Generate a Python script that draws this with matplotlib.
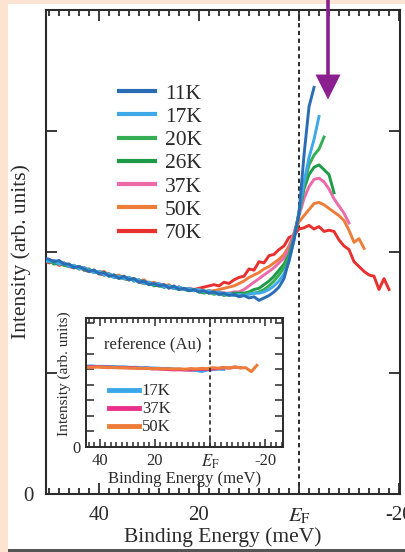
import numpy as np
import matplotlib
matplotlib.use("Agg")
import matplotlib.pyplot as plt
from matplotlib.patches import Rectangle
from matplotlib.ticker import MultipleLocator

plt.rcParams['font.family'] = ['Liberation Serif', 'DejaVu Serif']
plt.rcParams['mathtext.fontset'] = 'stix'

# ---- data (binding energy in meV, 1 meV steps from 51 meV) ----
energy = np.arange(51, -19, -1)

temps = ['11K', '17K', '20K', '26K', '37K', '50K', '70K']
colors = ['#2a6db5', '#3ea9e8', '#34ad55', '#1f9a48', '#ec6aa8', '#ee7d3a', '#e8302f']

i_11k = [1.95, 1.94, 1.92, 1.93, 1.90, 1.90, 1.87, 1.88, 1.86, 1.84, 1.85, 1.82, 1.83,
         1.80, 1.81, 1.78, 1.80, 1.77, 1.78, 1.75, 1.76, 1.73, 1.74, 1.72, 1.73, 1.70,
         1.72, 1.69, 1.70, 1.68, 1.69, 1.67, 1.68, 1.66, 1.67, 1.65, 1.66, 1.64, 1.65,
         1.63, 1.64, 1.62, 1.63, 1.60, 1.62, 1.64, 1.67, 1.71, 1.78, 1.93, 2.10, 2.32,
         2.80, 3.20, 3.36]
i_17k = [1.93, 1.92, 1.93, 1.90, 1.91, 1.88, 1.89, 1.86, 1.87, 1.85, 1.83, 1.84, 1.81,
         1.82, 1.79, 1.80, 1.78, 1.79, 1.76, 1.77, 1.74, 1.75, 1.73, 1.74, 1.71, 1.72,
         1.70, 1.71, 1.69, 1.70, 1.68, 1.69, 1.67, 1.68, 1.66, 1.67, 1.65, 1.66, 1.64,
         1.65, 1.64, 1.65, 1.66, 1.66, 1.67, 1.69, 1.72, 1.76, 1.82, 1.92, 2.10, 2.33,
         2.58, 2.78, 2.93, 3.12]
i_20k = [1.94, 1.92, 1.91, 1.92, 1.89, 1.90, 1.87, 1.88, 1.85, 1.86, 1.83, 1.84, 1.81,
         1.82, 1.79, 1.80, 1.78, 1.77, 1.78, 1.75, 1.76, 1.73, 1.74, 1.72, 1.71, 1.72,
         1.70, 1.69, 1.70, 1.68, 1.69, 1.67, 1.66, 1.67, 1.65, 1.66, 1.64, 1.65, 1.64,
         1.65, 1.65, 1.66, 1.66, 1.67, 1.69, 1.72, 1.76, 1.81, 1.87, 1.96, 2.12, 2.33,
         2.55, 2.72, 2.80, 2.85, 2.95]
i_26k = [1.92, 1.93, 1.90, 1.91, 1.89, 1.88, 1.89, 1.86, 1.87, 1.84, 1.85, 1.82, 1.83,
         1.80, 1.81, 1.79, 1.78, 1.79, 1.76, 1.77, 1.74, 1.75, 1.72, 1.73, 1.71, 1.72,
         1.70, 1.71, 1.69, 1.68, 1.69, 1.67, 1.68, 1.66, 1.67, 1.65, 1.66, 1.65, 1.66,
         1.66, 1.66, 1.67, 1.69, 1.70, 1.73, 1.76, 1.80, 1.85, 1.90, 1.98, 2.12, 2.32,
         2.52, 2.64, 2.70, 2.72, 2.68, 2.64, 2.49]
i_37k = [1.93, 1.94, 1.91, 1.90, 1.91, 1.88, 1.87, 1.88, 1.85, 1.86, 1.83, 1.84, 1.81,
         1.82, 1.80, 1.79, 1.80, 1.77, 1.78, 1.75, 1.76, 1.74, 1.73, 1.74, 1.71, 1.72,
         1.70, 1.71, 1.69, 1.70, 1.68, 1.69, 1.67, 1.68, 1.66, 1.67, 1.66, 1.66, 1.67,
         1.67, 1.69, 1.72, 1.75, 1.78, 1.81, 1.84, 1.87, 1.91, 1.95, 2.03, 2.16, 2.30,
         2.44, 2.54, 2.60, 2.61, 2.58, 2.52, 2.44, 2.38, 2.32, 2.24]
i_50k = [1.94, 1.92, 1.93, 1.90, 1.91, 1.89, 1.88, 1.86, 1.87, 1.85, 1.84, 1.83, 1.84,
         1.81, 1.80, 1.81, 1.78, 1.79, 1.77, 1.76, 1.77, 1.74, 1.75, 1.73, 1.72, 1.73,
         1.70, 1.71, 1.69, 1.70, 1.68, 1.69, 1.67, 1.68, 1.68, 1.69, 1.70, 1.71, 1.72,
         1.74, 1.76, 1.79, 1.81, 1.83, 1.86, 1.88, 1.91, 1.94, 1.98, 2.05, 2.15, 2.25,
         2.30, 2.35, 2.40, 2.41, 2.39, 2.36, 2.33, 2.30, 2.26, 2.18, 2.08, 2.11, 2.03]
i_70k = [1.93, 1.91, 1.92, 1.89, 1.90, 1.88, 1.87, 1.88, 1.85, 1.84, 1.85, 1.82, 1.81,
         1.82, 1.79, 1.80, 1.78, 1.77, 1.78, 1.75, 1.74, 1.75, 1.73, 1.72, 1.73, 1.71,
         1.70, 1.71, 1.69, 1.70, 1.69, 1.70, 1.71, 1.72, 1.73, 1.72, 1.75, 1.74, 1.77,
         1.79, 1.80, 1.86, 1.85, 1.92, 1.91, 1.97, 1.98, 2.02, 2.05, 2.12, 2.14, 2.19,
         2.20, 2.22, 2.19, 2.21, 2.17, 2.18, 2.17, 2.10, 2.05, 2.02, 1.92, 1.88, 1.84,
         1.81, 1.80, 1.69, 1.78, 1.69]
spectra = [i_11k, i_17k, i_20k, i_26k, i_37k, i_50k, i_70k]

# inset: gold reference, 2 meV steps from 45 meV
energy_au = np.arange(45, -19, -2)
au_temps = ['17K', '37K', '50K']
au_colors = ['#3aa8e8', '#e8308a', '#ee7d3a']
au_17k = [5.20, 5.22, 5.18, 5.19, 5.17, 5.18, 5.15, 5.16, 5.12, 5.13, 5.10, 5.11, 5.08,
          5.07, 5.05, 5.06, 5.02, 5.00, 4.98, 4.95, 4.93, 4.86, 4.95, 4.98, 5.01, 5.00]
au_37k = [5.17, 5.16, 5.18, 5.14, 5.15, 5.12, 5.13, 5.10, 5.11, 5.08, 5.06, 5.07, 5.03,
          5.02, 5.00, 4.98, 4.96, 4.97, 4.95, 4.96, 4.98, 5.00, 4.99, 5.02, 5.05, 5.10,
          5.08, 5.14, 5.10]
au_50k = [5.14, 5.12, 5.15, 5.13, 5.10, 5.12, 5.09, 5.10, 5.07, 5.08, 5.05, 5.06, 5.03,
          5.05, 5.02, 5.04, 5.01, 5.03, 5.00, 5.05, 5.02, 5.06, 5.04, 5.10, 5.07, 5.12,
          5.08, 5.15, 5.10, 5.10, 4.85, 5.25]
au_spectra = [au_17k, au_37k, au_50k]

xtick_vals = [40, 20, 0, -20]
xtick_labels = ['40', '20', r'$E_{\rm F}$', '-20']

# ---- figure ----
W, H = 406, 552
fig = plt.figure(figsize=(W / 100, H / 100), dpi=100)
fig.patch.set_facecolor('#fde4d2')
fig.patches.append(Rectangle((8 / W, 3 / H), 398 / W, 545 / H, transform=fig.transFigure,
                             facecolor='white', edgecolor='none', zorder=-10))
fig.patches.append(Rectangle((8 / W, 0), 398 / W, 3 / H, transform=fig.transFigure,
                             facecolor='#555555', edgecolor='none', zorder=-10))

ink = '#2a2a2a'
ax = fig.add_axes([46 / W, 58 / H, 354 / W, 484 / H])
ax.set_zorder(1)
for i in range(len(temps) - 1, -1, -1):
    y = spectra[i]
    ax.plot(energy[:len(y)], y, color=colors[i], lw=2.1, label=temps[i], zorder=3 + (7 - i) * 0.1)
ax.axvline(0, color=ink, lw=1.4, ls=(0, (2.2, 1.8)), zorder=2)

ax.set_xlim(50.6, -20.2)
ax.set_ylim(0, 4)
ax.set_xticks(xtick_vals)
ax.set_xticklabels(xtick_labels)
ax.xaxis.set_minor_locator(MultipleLocator(2))
ax.set_yticks([0, 1, 2, 3, 4])
ax.set_yticklabels(['0', '', '', '', ''])
ax.tick_params(which='both', direction='in', top=True, right=True, colors=ink,
               labelsize=15, width=1.3)
ax.tick_params(which='major', length=8, pad=9)
ax.tick_params(which='minor', length=4.5)
for s in ax.spines.values():
    s.set_linewidth(1.5)
    s.set_color(ink)
ax.set_xlabel('Binding Energy (meV)', fontsize=15.5, color=ink, labelpad=1)
ax.set_ylabel('Intensity (arb. units)', fontsize=15.5, color=ink, labelpad=-6)

handles, labels = ax.get_legend_handles_labels()
leg = ax.legend(handles[::-1], labels[::-1], loc='upper left', bbox_to_anchor=(0.183, 0.866),
                frameon=False, fontsize=15.5, handlelength=1.67, handletextpad=0.45,
                labelspacing=0.15, borderaxespad=0)
for line in leg.get_lines():
    line.set_linewidth(3)
for t in leg.get_texts():
    t.set_color(ink)

# purple arrow
ax.annotate('', xy=(-5.8, 3.26), xytext=(-5.8, 4.1), annotation_clip=False,
            arrowprops=dict(facecolor='#8b1f8f', edgecolor='none', width=2.6,
                            headwidth=18, headlength=18, shrink=0))

# ---- inset ----
axi = fig.add_axes([86 / W, 105 / H, 197 / W, 129 / H])
axi.set_zorder(2)
for i in range(len(au_temps)):
    y = au_spectra[i]
    axi.plot(energy_au[:len(y)], y, color=au_colors[i], lw=2.2, label=au_temps[i])
axi.axvline(0, color=ink, lw=1.2, ls=(0, (2.5, 2)))
axi.set_xlim(45, -26.5)
axi.set_ylim(0, 8.3)
axi.set_xticks(xtick_vals)
axi.set_xticklabels(xtick_labels)
axi.xaxis.set_minor_locator(MultipleLocator(2))
axi.set_yticks(range(9))
axi.set_yticklabels(['0'] + [''] * 8)
axi.tick_params(which='both', direction='in', top=True, right=True, colors=ink,
                labelsize=12, width=1.1)
axi.tick_params(which='major', length=6, pad=4)
axi.tick_params(which='minor', length=3.5)
for s in axi.spines.values():
    s.set_linewidth(1.4)
    s.set_color(ink)
axi.set_xlabel('Binding Energy (meV)', fontsize=12, color=ink, labelpad=0)
axi.set_ylabel('Intensity (arb. units)', fontsize=11, color=ink)
axi.yaxis.set_label_coords(-0.075, 0.57)
axi.text(0.09, 0.79, 'reference (Au)', transform=axi.transAxes, fontsize=12,
         color=ink, va='center')
leg2 = axi.legend(loc='upper left', bbox_to_anchor=(0.085, 0.545), frameon=False,
                  fontsize=12, handlelength=1.75, handletextpad=0.2, labelspacing=0.12,
                  borderaxespad=0)
for line in leg2.get_lines():
    line.set_linewidth(3.5)
for t in leg2.get_texts():
    t.set_color(ink)

fig.savefig('out.png', dpi=100, facecolor=fig.get_facecolor())
